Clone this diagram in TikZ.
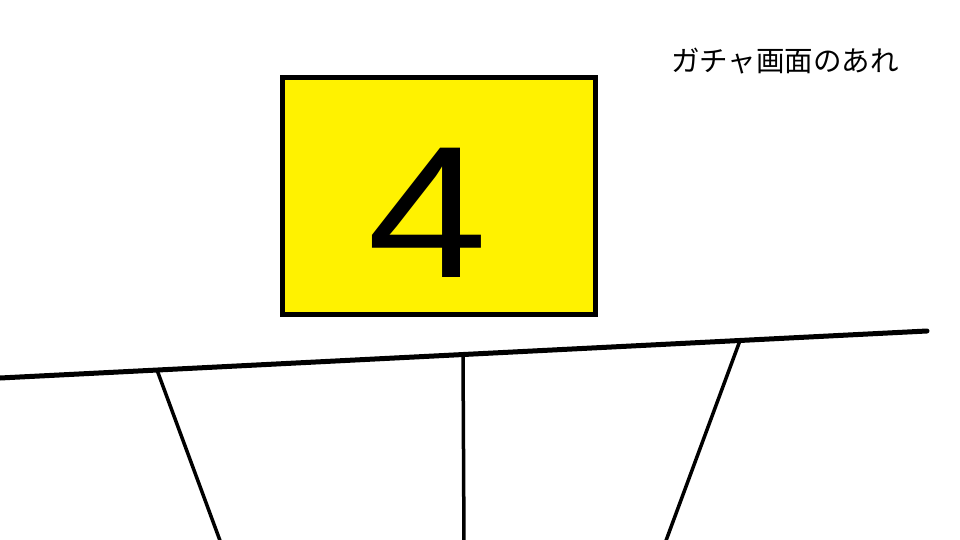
\documentclass[tikz,border=0pt]{standalone}
\usepackage{fontspec}
\setmainfont{Liberation Sans}
\newfontfamily\jpfont{Noto Sans CJK JP}
\definecolor{gachayellow}{RGB}{255,242,0}
\begin{document}
\begin{tikzpicture}[x=1pt,y=-1pt]
\useasboundingbox (0,0) rectangle (960,540) ;
% la barre inclinee et ses trois pieds
\coordinate (L) at (0,378) ;
\coordinate (R) at (927,331) ;
\coordinate (P1) at (157,370) ;
\coordinate (P2) at (463,354.5) ;
\coordinate (P3) at (740,340.5) ;
\coordinate (Q1) at (222,546) ;
\coordinate (Q2) at (464,546) ;
\coordinate (Q3) at (664,546) ;

\node[draw, line width=4.5pt, fill=gachayellow, minimum width=313pt, minimum height=237pt, inner sep=0pt] (box) at (439,196) {} ;
\node[inner sep=0pt, font=\fontsize{188}{188}\selectfont] (four) at (428,212.5) {\scalebox{1.15}[1]{4}} ;
\node[inner sep=0pt, font=\jpfont\fontsize{28.5}{30}\selectfont] (label) at (785,61) {ガチャ画面のあれ} ;

\draw[line width=5pt, line cap=round] (L) -- (R) ;
\draw[line width=3.5pt] (P1) -- (Q1) ;
\draw[line width=3.5pt] (P2) -- (Q2) ;
\draw[line width=3.5pt] (P3) -- (Q3) ;
\end{tikzpicture}
\end{document}
